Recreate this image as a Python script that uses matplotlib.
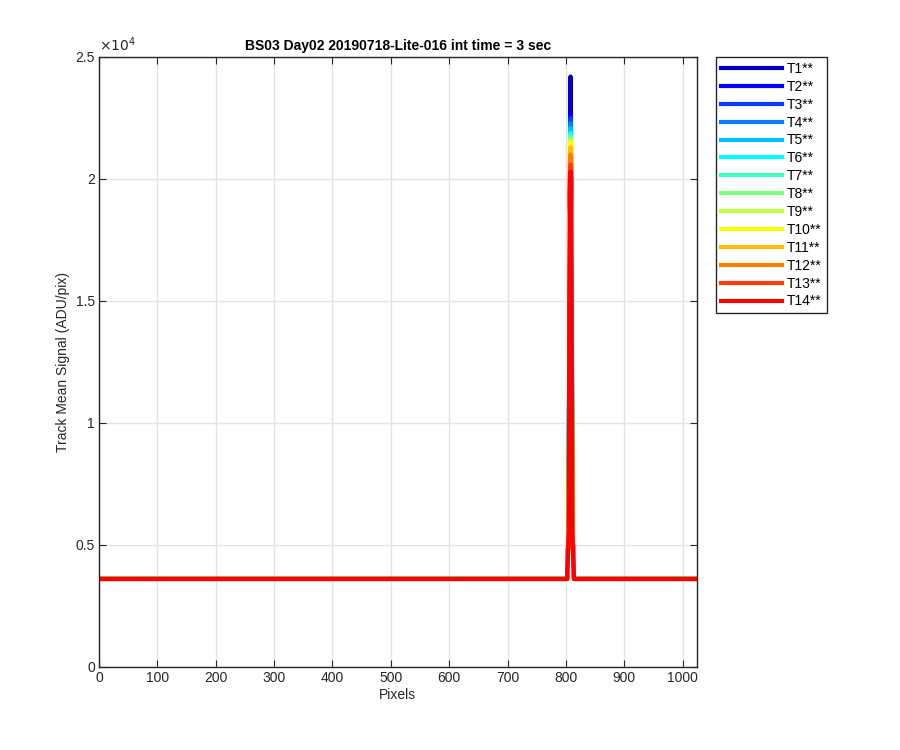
import matplotlib
matplotlib.use("Agg")
import matplotlib.pyplot as plt

plt.rcParams['font.family'] = ['Liberation Sans', 'DejaVu Sans']

# track names and jet(14) colours as in the original figure
labels = ["T%d**" % i for i in range(1, 15)]
colors = [(0, 0, .75), (0, 0, 1), (0, .25, 1), (0, .5, 1), (0, .75, 1), (0, 1, 1),
          (.25, 1, .75), (.5, 1, .5), (.75, 1, .25), (1, 1, 0), (1, .75, 0),
          (1, .5, 0), (1, .25, 0), (1, 0, 0)]

# sample pixels across the spectrum (flat baseline, one narrow line at ~808)
pix = [0, 300, 600, 802, 805, 806, 808, 810, 811, 814, 900, 1023]

# track mean signal (ADU/pix) at those pixels
sig = [
    [3600, 3600, 3600, 3600, 6000, 17000, 24200, 17000, 6000, 3600, 3600, 3600],
    [3600, 3600, 3600, 3600, 5900, 16500, 22700, 16500, 5900, 3600, 3600, 3600],
    [3600, 3600, 3600, 3600, 5900, 16300, 22500, 16300, 5900, 3600, 3600, 3600],
    [3600, 3600, 3600, 3600, 5800, 16100, 22300, 16100, 5800, 3600, 3600, 3600],
    [3600, 3600, 3600, 3600, 5800, 16000, 22100, 16000, 5800, 3600, 3600, 3600],
    [3600, 3600, 3600, 3600, 5800, 15900, 21900, 15900, 5800, 3600, 3600, 3600],
    [3600, 3600, 3600, 3600, 5700, 15800, 21800, 15800, 5700, 3600, 3600, 3600],
    [3600, 3600, 3600, 3600, 5700, 15700, 21700, 15700, 5700, 3600, 3600, 3600],
    [3600, 3600, 3600, 3600, 5700, 15600, 21600, 15600, 5700, 3600, 3600, 3600],
    [3600, 3600, 3600, 3600, 5700, 15500, 21500, 15500, 5700, 3600, 3600, 3600],
    [3600, 3600, 3600, 3600, 5600, 15400, 21300, 15400, 5600, 3600, 3600, 3600],
    [3600, 3600, 3600, 3600, 5600, 15200, 21000, 15200, 5600, 3600, 3600, 3600],
    [3600, 3600, 3600, 3600, 5500, 14900, 20600, 14900, 5500, 3600, 3600, 3600],
    [3600, 3600, 3600, 3600, 5500, 14700, 20300, 14700, 5500, 3600, 3600, 3600],
]

xticks = [0, 100, 200, 300, 400, 500, 600, 700, 800, 900, 1000]
yticks = [0, 5000, 10000, 15000, 20000, 25000]
ytick_labels = ["0", "0.5", "1", "1.5", "2", "2.5"]

fig = plt.figure(figsize=(9, 7.5), dpi=100)
ax = fig.add_axes([0.110, 0.111, 0.664, 0.813])

for k in range(len(labels)):
    ax.plot(pix, sig[k], color=colors[k], lw=3, label=labels[k])

ax.set_xlim(0, 1024)
ax.set_ylim(0, 25000)
ax.set_xticks(xticks)
ax.set_yticks(yticks)
ax.set_yticklabels(ytick_labels)
ax.tick_params(direction='in', top=True, right=True, labelsize=10, colors='#262626',
               length=5, width=0.8, pad=3)
ax.grid(True, color='#e3e3e3', lw=1.0)
ax.set_axisbelow(True)
for s in ax.spines.values():
    s.set_color('#262626')
    s.set_linewidth(1.0)

ax.text(0.0, 1.005, r"$\times10^{4}$", transform=ax.transAxes, fontsize=10,
        color='#262626', ha='left', va='bottom')
ax.set_xlabel("Pixels", fontsize=10, color='#262626', labelpad=2)
ax.set_ylabel("Track Mean Signal (ADU/pix)", fontsize=10, color='#262626')
ax.set_title("BS03 Day02 20190718-Lite-016 int time = 3 sec", fontsize=10,
             fontweight='bold', pad=5)

leg = fig.legend(loc='upper left', bbox_to_anchor=(0.796, 0.924), fontsize=10,
                 handlelength=4.4, labelspacing=0.28, borderpad=0.35,
                 handletextpad=0.35, borderaxespad=0, fancybox=False, framealpha=1)
leg.get_frame().set_edgecolor('#262626')
leg.get_frame().set_linewidth(1.0)

fig.savefig("out.png", dpi=100)
